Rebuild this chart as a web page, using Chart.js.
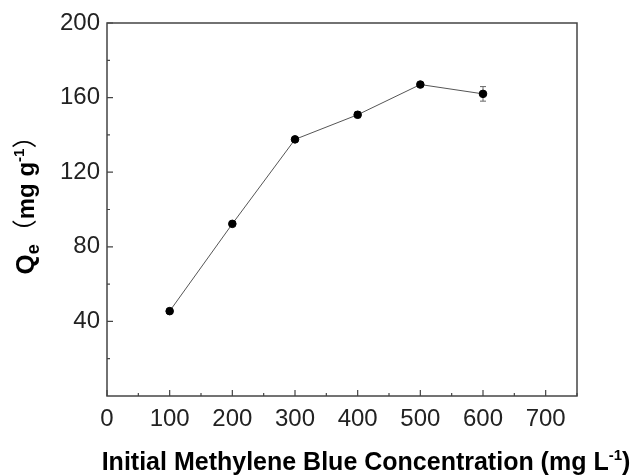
<!DOCTYPE html>
<html>
<head>
<meta charset="utf-8">
<script src="https://cdn.jsdelivr.net/npm/chart.js@4/dist/chart.umd.min.js"></script>
<style>
  html, body { margin: 0; padding: 0; background: #fff; }
  #wrap { width: 634px; height: 475px; }
</style>
</head>
<body>
<div id="wrap"><canvas id="chart" width="634" height="475"></canvas></div>
<script>
// data
const concentrations = [100, 200, 300, 400, 500, 600];
const qeValues = [45.5, 92.3, 137.6, 150.8, 167.0, 162.0];
const qeErrors = [0.5, 0.6, 0.6, 1.6, 0.6, 3.9];

const xTickLabels = [0, 100, 200, 300, 400, 500, 600, 700];
const yTickLabels = [40, 80, 120, 160, 200];

const fontFamily = "Arial, 'Liberation Sans', sans-serif";
const axisColor = "#444";

// error bars (drawn under the markers)
const errorBars = {
    id: "errorBars",
    beforeDatasetsDraw(chart) {
        const ctx = chart.ctx, xs = chart.scales.x, ys = chart.scales.y;
        ctx.save();
        ctx.strokeStyle = "#666";
        ctx.lineWidth = 1;
        concentrations.forEach((c, i) => {
            const px = xs.getPixelForValue(c);
            const top = ys.getPixelForValue(qeValues[i] + qeErrors[i]);
            const bot = ys.getPixelForValue(qeValues[i] - qeErrors[i]);
            ctx.beginPath();
            ctx.moveTo(px, top); ctx.lineTo(px, bot);
            ctx.moveTo(px - 3, top); ctx.lineTo(px + 3, top);
            ctx.moveTo(px - 3, bot); ctx.lineTo(px + 3, bot);
            ctx.stroke();
        });
        ctx.restore();
    }
};

// frame + inward ticks (major/minor)
const frameTicks = {
    id: "frameTicks",
    afterDraw(chart) {
        const ctx = chart.ctx, a = chart.chartArea;
        const xs = chart.scales.x, ys = chart.scales.y;
        ctx.save();
        ctx.strokeStyle = axisColor;
        ctx.lineWidth = 1.5;
        ctx.strokeRect(a.left, a.top, a.right - a.left, a.bottom - a.top);
        ctx.lineWidth = 1.2;
        ctx.beginPath();
        for (let v = 0; v <= 750; v += 50) {
            const px = xs.getPixelForValue(v);
            const len = v % 100 === 0 ? 6 : 3;
            ctx.moveTo(px, a.bottom); ctx.lineTo(px, a.bottom - len);
        }
        for (let v = 20; v <= 200; v += 20) {
            const py = ys.getPixelForValue(v);
            const len = v % 40 === 0 ? 6 : 3;
            ctx.moveTo(a.left, py); ctx.lineTo(a.left + len, py);
        }
        ctx.stroke();
        ctx.restore();
    }
};

// axis titles with sub/superscripts
function drawRuns(ctx, runs, x, y) {
    let cx = x;
    runs.forEach(r => {
        ctx.font = r.font;
        ctx.fillText(r.text, cx, y + (r.dy || 0));
        cx += ctx.measureText(r.text).width + (r.gap || 0);
    });
}
function runsWidth(ctx, runs) {
    let w = 0;
    runs.forEach(r => { ctx.font = r.font; w += ctx.measureText(r.text).width + (r.gap || 0); });
    return w;
}

const axisTitles = {
    id: "axisTitles",
    afterDraw(chart) {
        const ctx = chart.ctx;
        ctx.save();
        ctx.fillStyle = "#000";
        ctx.textBaseline = "alphabetic";
        ctx.textAlign = "left";

        const big = "bold 25px " + fontFamily;
        const sup = "bold 15px " + fontFamily;
        const xRuns = [
            { text: "Initial Methylene Blue Concentration (mg L", font: big },
            { text: "-1", font: sup, dy: -10 },
            { text: ")", font: big }
        ];
        const xw = runsWidth(ctx, xRuns);
        drawRuns(ctx, xRuns, 366 - xw / 2, 470);

        const paren = "25px 'Noto Sans CJK SC', sans-serif";
        const yRuns = [
            { text: "Q", font: "bold 26px " + fontFamily },
            { text: "e", font: "bold 18px " + fontFamily, dy: 5 },
            { text: "（", font: paren },
            { text: "mg g", font: "bold 24px " + fontFamily },
            { text: "-1", font: sup, dy: -10 },
            { text: "）", font: paren }
        ];
        const yw = runsWidth(ctx, yRuns);
        ctx.translate(34, 199);
        ctx.rotate(-Math.PI / 2);
        drawRuns(ctx, yRuns, -yw / 2, 0);
        ctx.restore();
    }
};

new Chart(document.getElementById("chart"), {
    type: "line",
    data: {
        datasets: [{
            data: concentrations.map((c, i) => ({ x: c, y: qeValues[i] })),
            borderColor: "#555",
            borderWidth: 1,
            pointBackgroundColor: "#000",
            pointBorderColor: "#000",
            pointRadius: 3.8,
            tension: 0
        }]
    },
    options: {
        responsive: false,
        animation: false,
        layout: { padding: { left: 0, right: 57, top: 23, bottom: 0 } },
        plugins: { legend: { display: false }, tooltip: { enabled: false } },
        scales: {
            x: {
                type: "linear",
                min: 0, max: 750,
                afterFit: s => { s.height = 79; },
                afterBuildTicks: s => { s.ticks = xTickLabels.map(v => ({ value: v })); },
                grid: { display: false, drawTicks: false },
                border: { display: false },
                ticks: {
                    color: "#222",
                    padding: 9,
                    font: { family: fontFamily, size: 24 },
                    maxRotation: 0
                }
            },
            y: {
                min: 0, max: 200,
                afterFit: s => { s.width = 107; },
                afterBuildTicks: s => { s.ticks = yTickLabels.map(v => ({ value: v })); },
                grid: { display: false, drawTicks: false },
                border: { display: false },
                ticks: {
                    color: "#222",
                    padding: 7,
                    font: { family: fontFamily, size: 24 }
                }
            }
        }
    },
    plugins: [errorBars, frameTicks, axisTitles]
});
</script>
</body>
</html>
